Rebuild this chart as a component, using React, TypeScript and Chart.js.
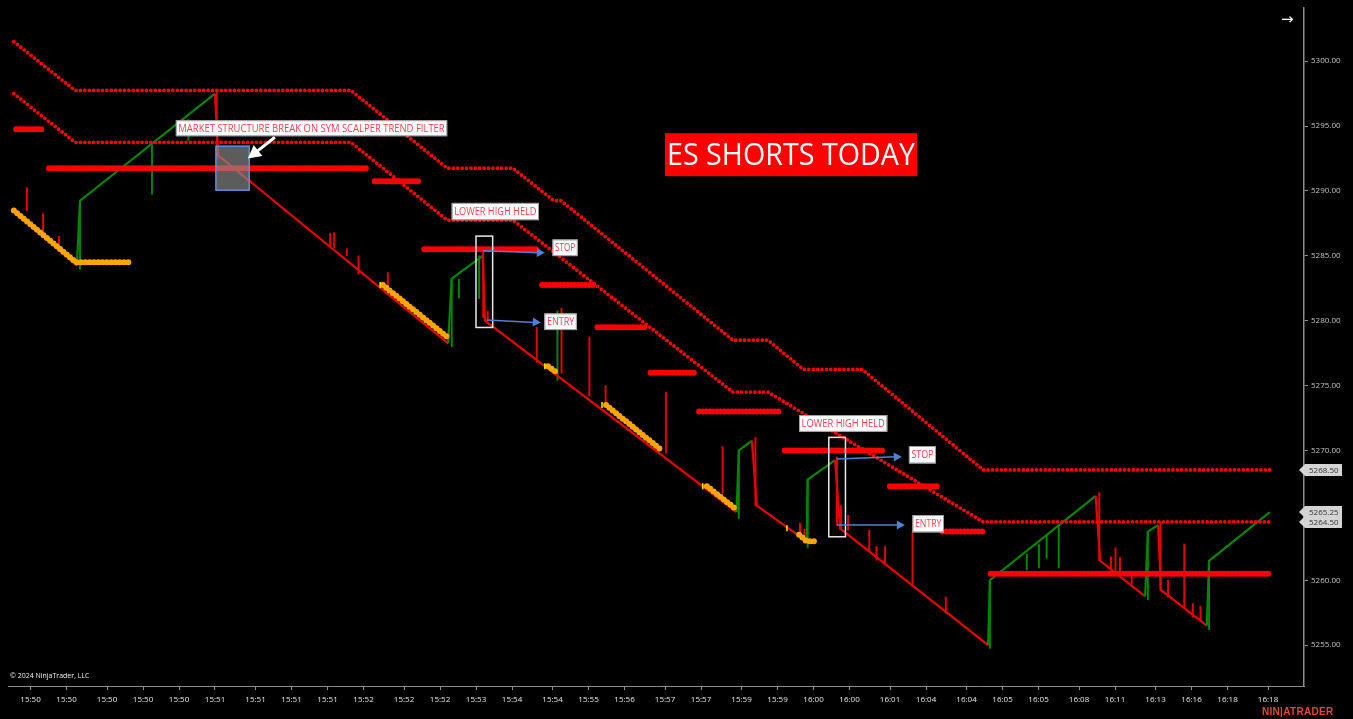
import React, { useEffect, useRef } from 'react';
import { Chart, registerables } from 'chart.js';

Chart.register(...registerables);

// ---------- axes ----------
const X_MIN = 0;
const X_MAX = 288;
const Y_MIN = 5251.85;
const Y_MAX = 5304.1;
const Y_TICKS = [5255, 5260, 5265, 5270, 5275, 5280, 5285, 5290, 5295, 5300];
const TIME_TICK_BARS = [5, 13, 22, 30, 38, 46, 55, 63, 71, 79, 88, 96, 104, 112, 121, 129, 137, 146, 154, 163, 171, 179, 187, 196, 204, 213, 221, 229, 238, 246, 255, 263, 271, 280];
const TIME_TICK_LABELS = ['15:50', '15:50', '15:50', '15:50', '15:50', '15:51', '15:51', '15:51', '15:51', '15:52', '15:52', '15:52', '15:53', '15:54', '15:54', '15:55', '15:56', '15:57', '15:57', '15:59', '15:59', '16:00', '16:00', '16:01', '16:04', '16:04', '16:05', '16:05', '16:08', '16:11', '16:13', '16:16', '16:18', '16:18'];

// ---------- renko path (leg turning points) ----------
const PATH_BARS = [1.3, 15.3, 16, 46, 46.7, 97.8, 98.6, 105.5, 106, 161.9, 162.4, 165.3, 166.4, 177.5, 177.7, 183.8, 184.9, 217.8, 218.2, 241.7, 242.7, 252.7, 253.3, 255.6, 256.2, 266.4, 266.9, 280.4];
const PATH_PRICES = [5288.5, 5284.25, 5289.25, 5297.5, 5292.75, 5278.25, 5283.25, 5285.0, 5280.0, 5265.25, 5270.0, 5270.75, 5265.75, 5263.0, 5267.75, 5269.25, 5264.0, 5255.0, 5260.0, 5266.5, 5261.5, 5258.75, 5263.75, 5264.25, 5259.25, 5256.5, 5261.5, 5265.25];

// ---------- wicks ----------
const RED_WICK_BARS = [4.2, 7.8, 11.3, 46.4, 71.6, 72.5, 75.3, 77.9, 84.4, 105.6, 106.6, 117.5, 123, 129.2, 132.8, 146.2, 158.8, 166.1, 176, 177, 184.2, 185.1, 186.7, 191.4, 193, 194.9, 201, 208.4, 242.5, 245.1, 246.1, 247.1, 249.7, 256.1, 257.8, 261.4, 263.3, 265];
const RED_WICK_LOWS = [5288.5, 5286.5, 5285.5, 5292.5, 5285.7, 5285.6, 5285.0, 5283.6, 5282.6, 5280.25, 5280.0, 5276.8, 5275.95, 5274.2, 5273.6, 5269.8, 5266.7, 5265.75, 5263.35, 5262.85, 5264.25, 5264.0, 5263.85, 5262.3, 5261.55, 5261.3, 5259.5, 5257.45, 5261.5, 5260.8, 5260.5, 5260.4, 5259.5, 5259.25, 5258.7, 5257.85, 5257.2, 5256.9];
const RED_WICK_HIGHS = [5290.25, 5288.25, 5286.5, 5297.75, 5286.75, 5286.8, 5285.55, 5285.0, 5283.7, 5285.5, 5280.75, 5279.5, 5280.95, 5278.75, 5275.0, 5274.5, 5270.3, 5271.0, 5264.4, 5263.95, 5269.5, 5265.75, 5265.0, 5263.85, 5262.6, 5262.6, 5263.75, 5258.7, 5266.75, 5261.8, 5262.5, 5261.75, 5260.55, 5264.5, 5260.0, 5262.8, 5258.2, 5258.0];
const GREEN_WICK_BARS = [16, 32, 40.1, 98.6, 100.2, 104.7, 122.1, 162.4, 177.7, 218.2, 226.4, 229.1, 230.8, 233.5, 253.3, 266.9];
const GREEN_WICK_LOWS = [5284.0, 5289.75, 5293.9, 5278.0, 5281.75, 5281.7, 5275.4, 5264.75, 5262.5, 5254.75, 5260.8, 5260.95, 5261.7, 5260.95, 5258.5, 5256.2];
const GREEN_WICK_HIGHS = [5289.25, 5293.5, 5295.5, 5283.25, 5283.2, 5285.0, 5280.75, 5270.0, 5267.75, 5259.9, 5262.0, 5262.75, 5263.5, 5264.25, 5263.75, 5261.4];

// ---------- trailing dotted bands ----------
const TRAIL_A_BARS = [1.3, 14.9, 76.2, 97.6, 112.2, 121.3, 122.9, 161.1, 168.9, 176.7, 189.8, 216.7, 280.4];
const TRAIL_A_PRICES = [5301.5, 5297.75, 5297.75, 5291.75, 5291.75, 5289.25, 5289.25, 5278.5, 5278.5, 5276.25, 5276.25, 5268.5, 5268.5];
const TRAIL_B_BARS = [1.3, 14.9, 76.2, 97.6, 112.2, 161.1, 168.9, 216.7, 280.4];
const TRAIL_B_PRICES = [5297.5, 5293.75, 5293.75, 5287.75, 5287.75, 5274.5, 5274.5, 5264.5, 5264.5];

// ---------- thick red levels ----------
const LEVEL_PRICES = [5294.75, 5291.75, 5290.75, 5285.5, 5282.75, 5279.5, 5276.0, 5273.0, 5270.0, 5267.25, 5263.75, 5260.5];
const LEVEL_STARTS = [1.8, 9.1, 81.5, 92.5, 118.7, 131, 142.8, 153.6, 172.6, 196, 207.7, 218.4];
const LEVEL_ENDS = [7.5, 79.8, 91.4, 117.8, 130, 141.6, 152.5, 171.4, 194.8, 206.5, 217.2, 280.2];

// ---------- orange trend dots ----------
const ORANGE_BARS = [1.3, 15.1, 27.1, null, 83.3, 97.6, null, 120, 122, null, 132.9, 145.3, null, 155.3, 161.7, null, 175.8, 177.5, 179.7];
const ORANGE_PRICES = [5288.5, 5284.5, 5284.5, null, 5282.75, 5278.75, null, 5276.5, 5276.0, null, 5273.5, 5270.0, null, 5267.25, 5265.5, null, 5263.5, 5263.0, 5263.0];

// ---------- yellow signal bricks ----------
const YELLOW_BARS = [82.7, 119.3, 132, 154.4, 173.1];
const YELLOW_PRICES = [5282.75, 5276.5, 5273.5, 5267.25, 5264.0];

// ---------- annotations ----------
const LABEL_TEXTS = ['MARKET STRUCTURE BREAK ON SYM SCALPER TREND FILTER', 'LOWER HIGH HELD', 'STOP', 'ENTRY', 'LOWER HIGH HELD', 'STOP', 'ENTRY'];
const LABEL_LEFT = [37.3, 98.6, 121, 119.2, 175.8, 200.2, 201];
const LABEL_RIGHT = [97.6, 118, 126.6, 126.4, 195.4, 206.2, 208];
const LABEL_TOP = [5295.45, 5289.08, 5286.26, 5280.56, 5272.73, 5270.34, 5265.02];
const LABEL_BOTTOM = [5294.22, 5287.75, 5284.98, 5279.28, 5271.44, 5269.0, 5263.69];

const FRAME_LEFT = [104, 182.4];
const FRAME_RIGHT = [107.7, 186.1];
const FRAME_TOP = [5286.52, 5271.01];
const FRAME_BOTTOM = [5279.48, 5263.35];

const ARROW_FROM_BAR = [105.6, 106.4, 184.2, 184.2];
const ARROW_FROM_PRICE = [5285.39, 5280.05, 5269.34, 5264.25];
const ARROW_TO_BAR = [119.3, 118.4, 198.6, 199.3];
const ARROW_TO_PRICE = [5285.23, 5279.87, 5269.52, 5264.25];

const HIGHLIGHT_BARS = [46.2, 53.6];
const HIGHLIGHT_PRICES = [5293.45, 5290.06];
const POINTER_BARS = [59.3, 53.3];
const POINTER_PRICES = [5294.14, 5292.5];

const TITLE_TEXT = 'ES SHORTS TODAY';
const TITLE_BARS = [146, 202];
const TITLE_PRICES = [5294.45, 5291.14];

const PRICE_MARKERS = [5268.5, 5265.25, 5264.5];

const GREEN = 'rgb(0,135,0)';
const RED = 'rgb(235,0,0)';

const xy = (xs: (number | null)[], ys: (number | null)[]) =>
  xs.map((x, i) => ({ x: x === null ? NaN : x, y: ys[i] }));

const levelData = () => {
  const out: any[] = [];
  LEVEL_PRICES.forEach((p, i) => {
    out.push({ x: LEVEL_STARTS[i], y: p });
    out.push({ x: LEVEL_ENDS[i], y: p });
    out.push({ x: LEVEL_ENDS[i], y: null });
  });
  return out;
};

const orangeData = () =>
  ORANGE_BARS.map((b, i) => (b === null ? { x: ORANGE_BARS[i - 1], y: null } : { x: b, y: ORANGE_PRICES[i] }));

const wickData = (bars: number[], lows: number[], highs: number[]) =>
  bars.map((b, i) => ({ x: b, y: [lows[i], highs[i]] }));

const drawArrowHead = (ctx: CanvasRenderingContext2D, x0: number, y0: number, x1: number, y1: number, len: number, half: number) => {
  const a = Math.atan2(y1 - y0, x1 - x0);
  ctx.beginPath();
  ctx.moveTo(x1, y1);
  ctx.lineTo(x1 - len * Math.cos(a) + half * Math.sin(a), y1 - len * Math.sin(a) - half * Math.cos(a));
  ctx.lineTo(x1 - len * Math.cos(a) - half * Math.sin(a), y1 - len * Math.sin(a) + half * Math.cos(a));
  ctx.closePath();
  ctx.fill();
};

const annotationPlugin = {
  id: 'ntAnnotations',
  afterDatasetsDraw(chart: any) {
    const { ctx, scales } = chart;
    const X = (v: number) => scales.x.getPixelForValue(v);
    const Y = (v: number) => scales.y.getPixelForValue(v);
    ctx.save();

    // highlighted box
    const hx0 = X(HIGHLIGHT_BARS[0]);
    const hx1 = X(HIGHLIGHT_BARS[1]);
    const hy0 = Y(HIGHLIGHT_PRICES[0]);
    const hy1 = Y(HIGHLIGHT_PRICES[1]);
    ctx.fillStyle = 'rgba(140,140,140,0.66)';
    ctx.fillRect(hx0, hy0, hx1 - hx0, hy1 - hy0);
    ctx.strokeStyle = '#5f8fe0';
    ctx.lineWidth = 1.5;
    ctx.strokeRect(hx0, hy0, hx1 - hx0, hy1 - hy0);

    // white pointer arrow
    {
      const x0 = X(POINTER_BARS[0]);
      const y0 = Y(POINTER_PRICES[0]);
      const x1 = X(POINTER_BARS[1]);
      const y1 = Y(POINTER_PRICES[1]);
      ctx.strokeStyle = '#ffffff';
      ctx.fillStyle = '#ffffff';
      ctx.lineWidth = 3;
      const a = Math.atan2(y1 - y0, x1 - x0);
      ctx.beginPath();
      ctx.moveTo(x0, y0);
      ctx.lineTo(x1 - 8 * Math.cos(a), y1 - 8 * Math.sin(a));
      ctx.stroke();
      drawArrowHead(ctx, x0, y0, x1, y1, 13, 7);
    }

    // white frames
    ctx.strokeStyle = '#e8e8e8';
    ctx.lineWidth = 1.5;
    FRAME_LEFT.forEach((l, i) => {
      const x0 = X(l);
      const x1 = X(FRAME_RIGHT[i]);
      const y0 = Y(FRAME_TOP[i]);
      const y1 = Y(FRAME_BOTTOM[i]);
      ctx.strokeRect(x0, y0, x1 - x0, y1 - y0);
    });

    // blue arrows
    ctx.strokeStyle = '#4f82d6';
    ctx.fillStyle = '#4f82d6';
    ctx.lineWidth = 1.5;
    ARROW_FROM_BAR.forEach((b, i) => {
      const x0 = X(b);
      const y0 = Y(ARROW_FROM_PRICE[i]);
      const x1 = X(ARROW_TO_BAR[i]);
      const y1 = Y(ARROW_TO_PRICE[i]);
      ctx.beginPath();
      ctx.moveTo(x0, y0);
      ctx.lineTo(x1 - 6, y1);
      ctx.stroke();
      drawArrowHead(ctx, x0, y0, x1, y1, 8, 4.5);
    });

    // label boxes
    ctx.textAlign = 'center';
    ctx.textBaseline = 'middle';
    LABEL_TEXTS.forEach((t, i) => {
      const x0 = X(LABEL_LEFT[i]);
      const x1 = X(LABEL_RIGHT[i]);
      const y0 = Y(LABEL_TOP[i]);
      const y1 = Y(LABEL_BOTTOM[i]);
      ctx.fillStyle = '#ffffff';
      ctx.fillRect(x0, y0, x1 - x0, y1 - y0);
      ctx.strokeStyle = '#9a9a9a';
      ctx.lineWidth = 1;
      ctx.strokeRect(x0 + 0.5, y0 + 0.5, x1 - x0 - 1, y1 - y0 - 1);
      ctx.fillStyle = 'rgb(255,60,78)';
      ctx.font = '10px "Open Sans"';
      ctx.fillText(t, (x0 + x1) / 2, (y0 + y1) / 2 + 0.5, x1 - x0 - 5);
    });

    // title box
    {
      const x0 = X(TITLE_BARS[0]);
      const x1 = X(TITLE_BARS[1]);
      const y0 = Y(TITLE_PRICES[0]);
      const y1 = Y(TITLE_PRICES[1]);
      ctx.fillStyle = '#ff0000';
      ctx.fillRect(x0, y0, x1 - x0, y1 - y0);
      ctx.fillStyle = '#ffffff';
      ctx.font = '31px "Open Sans"';
      ctx.fillText(TITLE_TEXT, (x0 + x1) / 2, (y0 + y1) / 2 + 1, x1 - x0 - 4);
    }
    ctx.restore();
  },
  afterDraw(chart: any) {
    const { ctx, scales } = chart;
    const ax = scales.y.left;
    ctx.save();
    ctx.font = '8px "Open Sans"';
    ctx.textAlign = 'left';
    ctx.textBaseline = 'middle';
    PRICE_MARKERS.forEach((p) => {
      const yc = Math.round(scales.y.getPixelForValue(p));
      ctx.fillStyle = '#d4d4d4';
      ctx.beginPath();
      ctx.moveTo(ax - 5, yc);
      ctx.lineTo(ax + 1, yc - 6);
      ctx.lineTo(ax + 38, yc - 6);
      ctx.lineTo(ax + 38, yc + 6);
      ctx.lineTo(ax + 1, yc + 6);
      ctx.closePath();
      ctx.fill();
      ctx.fillStyle = '#333333';
      ctx.fillText(p.toFixed(2), ax + 5, yc + 0.5);
    });
    ctx.restore();
  },
};

export default function App() {
  const ref = useRef<HTMLCanvasElement>(null);

  useEffect(() => {
    document.body.style.margin = '0';
    document.body.style.background = '#000';
    const canvas = ref.current;
    if (!canvas) return;

    const chart = new Chart(canvas, {
      type: 'line',
      data: {
        datasets: [
          {
            label: 'Signal',
            type: 'line',
            data: xy(YELLOW_BARS, YELLOW_PRICES),
            showLine: false,
            pointStyle: 'line',
            rotation: 90,
            pointRadius: 3,
            borderColor: '#ffee00',
            borderWidth: 1.5,
            order: 0,
          },
          {
            label: 'Trend',
            type: 'line',
            data: orangeData(),
            borderColor: '#ffa500',
            borderWidth: 6,
            borderDash: [0, 4.3],
            borderCapStyle: 'round',
            pointRadius: 0,
            spanGaps: false,
            order: 1,
          },
          {
            label: 'Levels',
            type: 'line',
            data: levelData(),
            borderColor: '#ff0000',
            borderWidth: 6,
            borderDash: [0, 3.6],
            borderCapStyle: 'round',
            pointRadius: 0,
            spanGaps: false,
            order: 2,
          },
          {
            label: 'Upper',
            type: 'line',
            data: xy(TRAIL_A_BARS, TRAIL_A_PRICES),
            borderColor: '#ff0000',
            borderWidth: 3.8,
            borderDash: [0, 4.4],
            borderCapStyle: 'round',
            pointRadius: 0,
            order: 3,
          },
          {
            label: 'Lower',
            type: 'line',
            data: xy(TRAIL_B_BARS, TRAIL_B_PRICES),
            borderColor: '#ff0000',
            borderWidth: 3.8,
            borderDash: [0, 4.4],
            borderCapStyle: 'round',
            pointRadius: 0,
            order: 3,
          },
          {
            label: 'Renko',
            type: 'line',
            data: xy(PATH_BARS, PATH_PRICES),
            borderWidth: 2.2,
            borderColor: RED,
            pointRadius: 0,
            segment: {
              borderColor: (c: any) => (c.p1.parsed.y >= c.p0.parsed.y ? GREEN : RED),
            },
            order: 4,
          },
          {
            label: 'Red wicks',
            type: 'bar',
            data: wickData(RED_WICK_BARS, RED_WICK_LOWS, RED_WICK_HIGHS) as any,
            backgroundColor: RED,
            barThickness: 1.3,
            grouped: false,
            order: 5,
          },
          {
            label: 'Green wicks',
            type: 'bar',
            data: wickData(GREEN_WICK_BARS, GREEN_WICK_LOWS, GREEN_WICK_HIGHS) as any,
            backgroundColor: GREEN,
            barThickness: 1.3,
            grouped: false,
            order: 5,
          },
        ] as any,
      },
      options: {
        responsive: false,
        animation: false,
        events: [],
        layout: { padding: { left: 8, top: 8, right: 0, bottom: 0 } },
        plugins: { legend: { display: false }, tooltip: { enabled: false } },
        scales: {
          x: {
            type: 'linear',
            min: X_MIN,
            max: X_MAX,
            offset: false,
            afterBuildTicks: (s: any) => {
              s.ticks = TIME_TICK_BARS.map((v) => ({ value: v }));
            },
            afterFit: (s: any) => {
              s.height = 33;
            },
            ticks: {
              autoSkip: false,
              maxRotation: 0,
              padding: 5,
              color: '#e6e6e6',
              font: { size: 8, family: '"Open Sans"' },
              callback: (_v: any, i: number) => TIME_TICK_LABELS[i],
            },
            grid: { display: true, drawOnChartArea: false, drawTicks: true, tickLength: 4, color: '#8c8c8c', offset: false },
            border: { display: true, color: '#8c8c8c', width: 1 },
          },
          y: {
            type: 'linear',
            position: 'right',
            min: Y_MIN,
            max: Y_MAX,
            afterBuildTicks: (s: any) => {
              s.ticks = Y_TICKS.map((v) => ({ value: v }));
            },
            afterFit: (s: any) => {
              s.width = 49;
            },
            ticks: {
              padding: 3,
              color: '#c4c4c4',
              font: { size: 8, family: '"Open Sans"' },
              callback: (v: any) => Number(v).toFixed(2),
            },
            grid: { display: true, drawOnChartArea: false, drawTicks: true, tickLength: 4, color: '#8c8c8c' },
            border: { display: true, color: '#8c8c8c', width: 1.5 },
          },
        },
      } as any,
      plugins: [annotationPlugin],
    });

    return () => chart.destroy();
  }, []);

  return (
    <div style={{ position: 'relative', width: 1353, height: 719, background: '#000', overflow: 'hidden' }}>
      <canvas ref={ref} width={1353} height={719} style={{ display: 'block' }} />
      <div style={{ position: 'absolute', left: 10, top: 671, color: '#f0f0f0', font: '7px "Open Sans"', whiteSpace: 'nowrap' }}>
        © 2024 NinjaTrader, LLC
      </div>
      <div style={{ position: 'absolute', left: 1281, top: 11, color: '#ffffff', font: '15px "DejaVu Sans"', lineHeight: '16px' }}>→</div>
      <div style={{ position: 'absolute', left: 1262, top: 706, color: '#e5482a', font: 'bold 10px "Liberation Sans"', letterSpacing: '0.3px', whiteSpace: 'nowrap' }}>
        NIN|ATRADER
      </div>
    </div>
  );
}
